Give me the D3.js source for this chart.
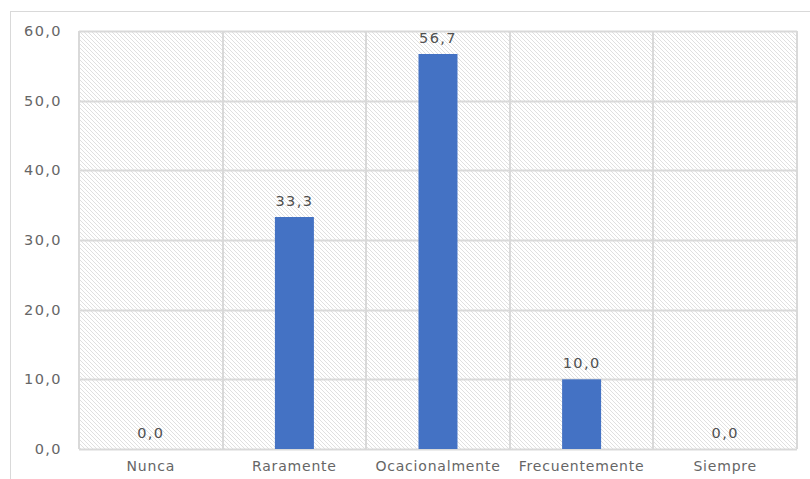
<!DOCTYPE html>
<html><head><meta charset="utf-8">
<script src="https://cdn.jsdelivr.net/npm/d3@7"></script>
<style>body{margin:0;background:#fff}svg{display:block}</style>
</head><body>
<svg id="c" width="810" height="479"></svg>
<script>
const categories = ["Nunca","Raramente","Ocacionalmente","Frecuentemente","Siempre"];
const values = [0.0, 33.3, 56.7, 10.0, 0.0];
const yTicks = [0,10,20,30,40,50,60];

const svg = d3.select("#c");
const W = 810, H = 479;
const m = {left:79, top:31, right:797, bottom:449};
const fmt = v => v.toFixed(1).replace(".", ",");
const font = "'DejaVu Sans', Verdana, sans-serif";

const defs = svg.append("defs");
const pat = defs.append("pattern").attr("id","hatch").attr("patternUnits","userSpaceOnUse")
  .attr("width",4).attr("height",4);
pat.append("rect").attr("width",4).attr("height",4).attr("fill","#fff");
pat.append("path").attr("d","M-1,-1 L5,5 M-1,3 L1,5 M3,-1 L5,1").attr("stroke","#e0e0e0").attr("stroke-width",1);

svg.append("rect").attr("x",10.5).attr("y",11.5).attr("width",W+10).attr("height",H+10)
  .attr("fill","#fff").attr("stroke","#d9d9d9").attr("stroke-width",1);

const x = d3.scaleBand().domain(categories).range([m.left, m.right]).paddingInner(0).paddingOuter(0);
const y = d3.scaleLinear().domain([0,60]).range([m.bottom, m.top]);

svg.append("rect").attr("x",m.left).attr("y",m.top).attr("width",m.right-m.left).attr("height",m.bottom-m.top)
  .attr("fill","url(#hatch)");

svg.append("g").selectAll("line").data(yTicks).join("line")
  .attr("x1",m.left).attr("x2",m.right)
  .attr("y1",d=>Math.round(y(d))+0.5).attr("y2",d=>Math.round(y(d))+0.5)
  .attr("stroke","#d9d9d9").attr("stroke-width",2);
const vx = categories.map(c=>x(c)).concat([m.right]);
svg.append("g").selectAll("line").data(vx).join("line")
  .attr("x1",d=>Math.round(d)).attr("x2",d=>Math.round(d))
  .attr("y1",m.top).attr("y2",m.bottom)
  .attr("stroke","#d9d9d9").attr("stroke-width",2);

const bw = 39;
svg.append("g").selectAll("rect").data(values).join("rect")
  .attr("x",(d,i)=>x(categories[i])+x.bandwidth()/2-bw/2)
  .attr("y",d=>y(d)).attr("width",bw).attr("height",d=>y(0)-y(d))
  .attr("fill","#4472c4");

svg.append("g").selectAll("text").data(values).join("text")
  .attr("x",(d,i)=>x(categories[i])+x.bandwidth()/2)
  .attr("y",d=>y(d)-11)
  .attr("text-anchor","middle").attr("font-family",font).attr("font-size",14.5)
  .attr("letter-spacing",1.4)
  .attr("fill","#505050").text(d=>fmt(d));

svg.append("g").selectAll("text").data(yTicks).join("text")
  .attr("x",62).attr("y",d=>y(d)+5)
  .attr("text-anchor","end").attr("font-family",font).attr("font-size",14.5)
  .attr("letter-spacing",1.4)
  .attr("fill","#666").text(d=>fmt(d));

svg.append("g").selectAll("text").data(categories).join("text")
  .attr("x",d=>x(d)+x.bandwidth()/2).attr("y",471)
  .attr("text-anchor","middle").attr("font-family",font).attr("font-size",14)
  .attr("letter-spacing",0.8)
  .attr("fill","#666").text(d=>d);
</script>
</body></html>
